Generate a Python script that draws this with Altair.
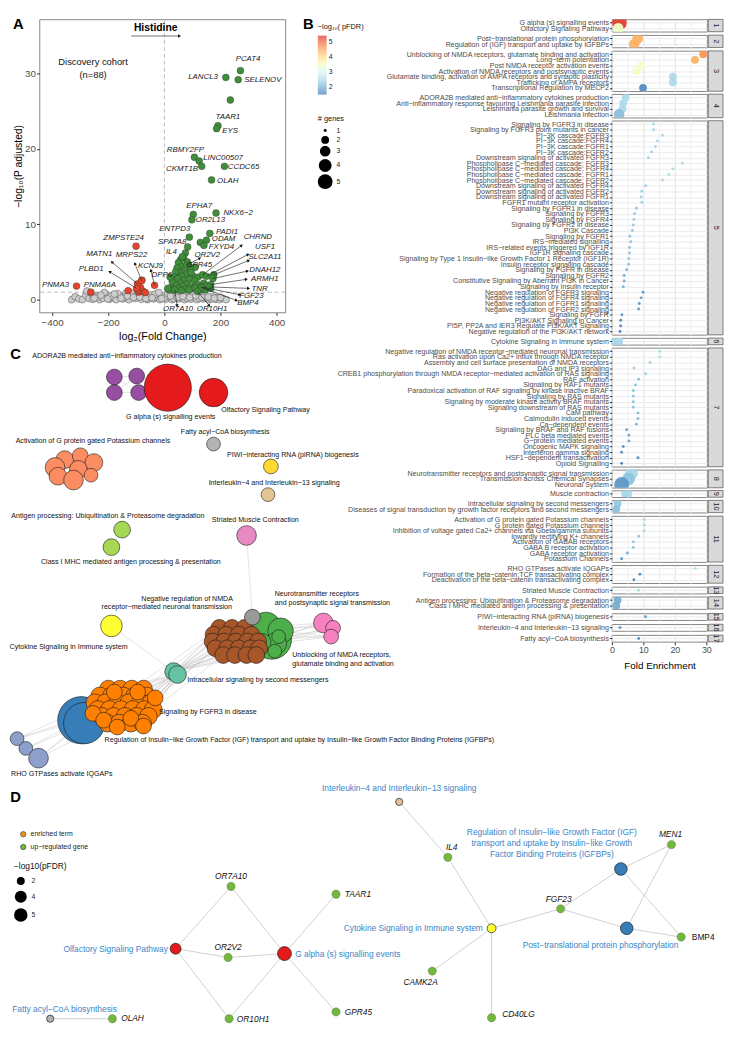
import math
import altair as alt
import pandas as pd

FONT = "Liberation Sans"

# ===================== Panel A : volcano =====================
gray_pts = [(-330,0.0),(-318,0.4),(-305,0.1),(-292,0.0),(-280,0.6),(-268,0.15),(-276,1.15),(-255,0.05),
            (-243,0.5),(-231,0.0),(-219,0.2),(-207,0.7),(-196,0.05),(-184,0.3),(-172,0.0),(-160,0.55),
            (-148,0.1),(-137,0.85),(-126,0.0),(-115,0.45),(-104,0.15),(-93,0.65),(-82,0.05),(-71,0.4),
            (-60,0.0),(-49,0.6),(-38,0.1),(-27,0.3),(-16,0.0),(-5,0.5),(6,0.05),(17,0.35),(28,0.0),
            (39,0.6),(50,0.1),(61,0.25),(72,0.0),(83,0.45),(94,0.05),(105,0.3),(116,0.0),(127,0.5),
            (138,0.1),(149,0.2),(160,0.0),(171,0.4),(182,0.05),(195,0.0),(208,0.15),(220,0.0),
            (-262,0.9),(-238,0.35),(-214,0.95),(-190,0.45),(-166,0.8),(-142,0.35),(-118,0.9),(-100,0.55),
            (-76,0.7),(-55,0.3),(-33,0.75),(-20,0.95),(0,0.25),(12,0.8),(34,0.15),(58,0.7),(80,0.2),
            (102,0.75),(124,0.2),(146,0.6),(168,0.1),(188,0.3),(-250,0.2),(-226,0.6),(-202,0.1),
            (-178,0.75),(-154,0.2),(-131,0.5),(-110,0.3),(-88,0.35),(-66,0.15),(-44,0.25),(-10,0.15),
            (22,0.5),(46,0.3),(66,0.45),(90,0.3),(112,0.55),(134,0.3),(156,0.35),(178,0.2),(200,0.3)]
red_pts = [(-129,1.2),(-92,1.0),(-76,1.1),(-68,0.95),(-85,1.6),(-80,2.6),(-95,1.25)]
green_pts = [(235,26.5),(128,7.6),(75,6.2),(68,5.6),(58,5.3),(82,5.0),(50,4.9),(64,4.4),(88,4.5),
             (45,4.2),(72,3.9),(95,4.0),(110,4.3),(54,3.6),(80,3.4),(40,3.7),(62,3.1),(100,3.2),
             (120,3.0),(35,3.0),(48,2.8),(70,2.6),(90,2.7),(108,2.5),(28,2.4),(56,2.2),(80,2.1),
             (140,2.2),(118,2.0),(42,1.9),(66,1.8),(95,1.7),(22,1.6),(150,1.9),(105,1.5),(50,1.5),
             (75,1.4),(132,1.4),(30,1.3),(88,1.3),(110,1.6),(60,1.2),(17,1.3),(145,1.3),(165,1.5),(12,1.5)]
# gene, x, y, label x, label y
down_genes = [("ZMPSTE24",-101,7.1,-145,8.2),("MATN1",-96,2.1,-232,6.0),("MRPS22",-81,2.5,-117,5.9),
              ("KCNJ9",-35,1.9,-50,4.4),("PLBD1",-99,1.5,-261,4.1),("PNMA3",-313,1.8,-388,1.9),
              ("PNMA6A",-262,1.0,-230,1.9)]
up_genes = [("PCAT4",271,30.4,298,31.9),("LANCL3",219,29.5,138,29.6),("SELENOV",263,29.2,351,29.2),
            ("TAAR1",191,23.1,226,24.3),("EYS",186,22.7,234,22.4),("RBMY2FP",107,18.9,75,19.8),
            ("LINC00507",124,18.4,209,18.8),("CKMT1B",133,17.7,63,17.3),("CCDC65",214,17.7,282,17.6),
            ("OLAH",168,15.9,226,15.8),("EPHA7",103,11.3,124,12.4),("OR2L13",98,10.6,164,10.6),
            ("NKX6−2",184,11.5,263,11.5),("ENTPD3",89,8.3,37,9.4),("PADI1",162,8.8,223,9.0),
            ("ODAM",150,7.9,211,8.0),("FXYD4",141,7.2,203,7.0),("SPATA8",83,7.0,28,7.6),
            ("IL4",64,5.7,25,6.3),("OR2V2",80,4.6,153,5.9),("GPR45",95,3.6,124,4.6),("DPP6",20,3.0,-9,3.3),
            ("CHRND",136,3.3,333,8.3),("USF1",150,3.1,359,7.0),("SLC2A11",176,3.3,358,5.7),
            ("DNAH12",173,2.8,358,3.9),("ARMH1",165,2.0,358,2.7),("TNR",160,1.7,339,1.4),
            ("FGF23",130,1.7,310,0.5),("BMP4",133,1.6,298,-0.5),("OR7A10",37,1.3,49,-1.3),
            ("OR10H1",118,1.1,170,-1.3)]
# label-side end of the connector for repelled labels
arrow_ends = {"MATN1":(-187,5.0),"MRPS22":(-105,4.8),"KCNJ9":(-48,3.9),"PLBD1":(-195,3.7),
              "OR2V2":(126,5.5),"CHRND":(275,7.2),"USF1":(298,6.0),"SLC2A11":(300,5.2),
              "DNAH12":(296,3.8),"ARMH1":(292,2.7),"TNR":(300,1.5),"FGF23":(269,0.65),
              "BMP4":(257,-0.1),"OR7A10":(45,-0.8),"OR10H1":(160,-0.8)}

A_W, A_H = 250, 298
AX_DOM, AY_DOM = [-445, 431], [-1.7, 37.2]
GRAY, RED, GREEN = "#cdcdcd", "#e6452c", "#3f8f3a"

pts_rows = [(x, y, GRAY) for x, y in gray_pts]
pts_rows += [(x, y, RED) for x, y in red_pts] + [(g[1], g[2], RED) for g in down_genes]
pts_rows += [(x, y, GREEN) for x, y in green_pts] + [(g[1], g[2], GREEN) for g in up_genes]
a_pts = pd.DataFrame(pts_rows, columns=["x", "y", "fill"])
a_lab = pd.DataFrame([(g[0], g[3], g[4]) for g in down_genes + up_genes], columns=["gene", "lx", "ly"])

kx = A_W / (AX_DOM[1] - AX_DOM[0])
ky = A_H / (AY_DOM[1] - AY_DOM[0])
arr_rows = []
for g in down_genes + up_genes:
    if g[0] in arrow_ends:
        ex, ey = arrow_ends[g[0]]
        arr_rows.append((g[1], g[2], ex, ey))
arr_rows.append((-118, 35.0, 54, 35.0))  # "Histidine" arrow
a_arr = pd.DataFrame(arr_rows, columns=["sx", "sy", "ex", "ey"])
a_arr["ang"] = [math.degrees(math.atan2((r.ex - r.sx) * kx, (r.ey - r.sy) * ky)) % 360 for r in a_arr.itertuples()]

xA = alt.Scale(domain=AX_DOM, nice=False, zero=False)
yA = alt.Scale(domain=AY_DOM, nice=False, zero=False)
axA_x = alt.Axis(values=[-400, -200, 0, 200, 400], grid=False, domain=False, tickSize=3, tickColor="#333",
                 labelFontSize=10, labelColor="#4d4d4d", labelPadding=2, titleFontSize=11,
                 titleFontWeight="normal", titlePadding=3, labelFlush=False)
axA_y = alt.Axis(values=[0, 10, 20, 30], grid=False, domain=False, tickSize=3, tickColor="#333",
                 labelFontSize=10, labelColor="#4d4d4d", labelPadding=1, titleFontSize=10.5,
                 titleFontWeight="normal", titlePadding=1)

# ---- Panel B data (its legends are drawn beside panel A, as in the figure) ----
b_rows = [
    (1, "G alpha (s) signalling events", 2.4, 5.3, 5),
    (1, "Olfactory Signaling Pathway", 2.0, 3.4, 3),
    (2, "Post−translational protein phosphorylation", 8.2, 4.4, 3),
    (2, "Regulation of (IGF) transport and uptake by IGFBPs", 7.1, 4.4, 3),
    (3, "Unblocking of NMDA receptors, glutamate binding and activation", 29.0, 4.6, 2),
    (3, "Long−term potentiation", 26.4, 4.4, 2),
    (3, "Post NMDA receptor activation events", 9.3, 3.4, 2),
    (3, "Activation of NMDA receptors and postsynaptic events", 7.9, 3.4, 2),
    (3, "Glutamate binding, activation of AMPA receptors and synaptic plasticity", 19.4, 2.5, 2),
    (3, "Trafficking of AMPA receptors", 19.4, 2.5, 2),
    (3, "Transcriptional Regulation by MECP2", 9.9, 1.7, 2),
    (4, "ADORA2B mediated anti−inflammatory cytokines production", 4.4, 2.5, 2),
    (4, "Anti−inflammatory response favouring Leishmania parasite infection", 3.6, 2.5, 2),
    (4, "Leishmania parasite growth and survival", 3.4, 2.5, 2),
    (4, "Leishmania infection", 2.3, 2.2, 3),
    (5, "Signaling by FGFR3 in disease", 13.2, 2.45, 1),
    (5, "Signaling by FGFR3 point mutants in cancer", 13.2, 2.45, 1),
    (5, "PI−3K cascade:FGFR3", 16.1, 2.45, 1),
    (5, "PI−3K cascade:FGFR4", 14.5, 2.45, 1),
    (5, "PI−3K cascade:FGFR1", 13.8, 2.45, 1),
    (5, "PI−3K cascade:FGFR2", 12.6, 2.4, 1),
    (5, "Downstream signaling of activated FGFR3", 11.6, 2.4, 1),
    (5, "Phospholipase C−mediated cascade; FGFR3", 22.4, 2.5, 1),
    (5, "Phospholipase C−mediated cascade; FGFR4", 19.4, 2.5, 1),
    (5, "Phospholipase C−mediated cascade; FGFR1", 18.1, 2.5, 1),
    (5, "Phospholipase C−mediated cascade; FGFR2", 16.1, 2.45, 1),
    (5, "Downstream signaling of activated FGFR4", 10.7, 2.4, 1),
    (5, "Downstream signaling of activated FGFR2", 9.5, 2.4, 1),
    (5, "Downstream signaling of activated FGFR1", 9.3, 2.4, 1),
    (5, "FGFR1 mutant receptor activation", 9.5, 2.35, 1),
    (5, "Signaling by FGFR1 in disease", 7.8, 2.3, 1),
    (5, "Signaling by FGFR3", 7.2, 2.3, 1),
    (5, "Signaling by FGFR4", 7.0, 2.3, 1),
    (5, "Signaling by FGFR2 in disease", 6.8, 2.3, 1),
    (5, "PI3K Cascade", 6.5, 2.25, 1),
    (5, "Signaling by FGFR1", 5.7, 2.25, 1),
    (5, "IRS−mediated signalling", 6.0, 2.25, 1),
    (5, "IRS−related events triggered by IGF1R", 5.6, 2.25, 1),
    (5, "IGF1R signaling cascade", 5.6, 2.25, 1),
    (5, "Signaling by Type 1 Insulin−like Growth Factor 1 Receptor (IGF1R)", 5.4, 2.25, 1),
    (5, "Insulin receptor signalling cascade", 5.3, 2.25, 1),
    (5, "Signaling by FGFR in disease", 4.7, 2.1, 1),
    (5, "Signaling by FGFR2", 3.9, 2.0, 1),
    (5, "Constitutive Signaling by Aberrant PI3K in Cancer", 3.9, 2.0, 1),
    (5, "Signaling by Insulin receptor", 3.6, 2.0, 1),
    (5, "Negative regulation of FGFR3 signaling", 9.9, 1.85, 1),
    (5, "Negative regulation of FGFR4 signaling", 9.3, 1.85, 1),
    (5, "Negative regulation of FGFR1 signaling", 8.7, 1.85, 1),
    (5, "Negative regulation of FGFR2 signaling", 8.5, 1.85, 1),
    (5, "Signaling by FGFR", 3.2, 1.85, 1),
    (5, "PI3K/AKT Signaling in Cancer", 2.8, 1.65, 1),
    (5, "PI5P, PP2A and IER3 Regulate PI3K/AKT Signaling", 2.8, 1.65, 1),
    (5, "Negative regulation of the PI3K/AKT network", 2.6, 1.65, 1),
    (6, "Cytokine Signaling in Immune system", 1.5, 2.45, 4),
    (7, "Negative regulation of NMDA receptor−mediated neuronal transmission", 15.2, 2.5, 1),
    (7, "Ras activation upon Ca2+ influx through NMDA receptor", 15.2, 2.5, 1),
    (7, "Assembly and cell surface presentation of NMDA receptors", 12.1, 2.4, 1),
    (7, "DAG and IP3 signaling", 7.0, 2.4, 1),
    (7, "CREB1 phosphorylation through NMDA receptor−mediated activation of RAS signaling", 10.7, 2.35, 1),
    (7, "RAF activation", 8.5, 2.2, 1),
    (7, "Signaling by RAF1 mutants", 7.5, 2.2, 1),
    (7, "Paradoxical activation of RAF signaling by kinase inactive BRAF", 6.8, 2.2, 1),
    (7, "Signaling by RAS mutants", 6.8, 2.2, 1),
    (7, "Signaling by moderate kinase activity BRAF mutants", 6.8, 2.2, 1),
    (7, "Signaling downstream of RAS mutants", 6.8, 2.2, 1),
    (7, "CaM pathway", 8.3, 2.15, 1),
    (7, "Calmodulin induced events", 8.3, 2.15, 1),
    (7, "Ca−dependent events", 7.8, 2.1, 1),
    (7, "Signaling by BRAF and RAF fusions", 4.7, 1.9, 1),
    (7, "PLC beta mediated events", 5.4, 1.95, 1),
    (7, "G−protein mediated events", 5.4, 1.95, 1),
    (7, "Oncogenic MAPK signaling", 3.6, 1.75, 1),
    (7, "Interferon gamma signaling", 3.1, 1.7, 1),
    (7, "HSF1−dependent transactivation", 8.3, 1.75, 1),
    (7, "Opioid Signalling", 3.1, 1.6, 1),
    (8, "Neurotransmitter receptors and postsynaptic signal transmission", 6.2, 2.45, 4),
    (8, "Transmission across Chemical Synapses", 5.3, 2.25, 4),
    (8, "Neuronal System", 3.1, 1.8, 5),
    (9, "Muscle contraction", 4.7, 2.45, 3),
    (10, "Intracellular signaling by second messengers", 1.8, 2.3, 2),
    (10, "Diseases of signal transduction by growth factor receptors and second messengers", 1.4, 2.2, 2),
    (11, "Activation of G protein gated Potassium channels", 10.3, 2.45, 1),
    (11, "G protein gated Potassium channels", 10.3, 2.45, 1),
    (11, "Inhibition  of voltage gated Ca2+ channels via Gbeta/gamma subunits", 10.3, 2.45, 1),
    (11, "Inwardly rectifying K+ channels", 8.5, 2.3, 1),
    (11, "Activation of GABAB receptors", 6.8, 2.2, 1),
    (11, "GABA B receptor activation", 6.8, 2.2, 1),
    (11, "GABA receptor activation", 4.9, 2.0, 1),
    (11, "Potassium Channels", 3.1, 1.75, 1),
    (12, "RHO GTPases activate IQGAPs", 26.5, 2.5, 1),
    (12, "Formation of the beta−catenin:TCF transactivating complex", 8.9, 1.7, 1),
    (12, "Deactivation of the beta−catenin transactivating complex", 7.0, 1.7, 1),
    (13, "Striated Muscle Contraction", 8.5, 2.45, 1),
    (14, "Antigen processing: Ubiquitination & Proteasome degradation", 1.8, 2.0, 2),
    (14, "Class I MHC mediated antigen processing & presentation", 1.4, 2.0, 2),
    (15, "PIWI−interacting RNA (piRNA) biogenesis", 10.7, 1.85, 1),
    (16, "Interleukin−4 and Interleukin−13 signaling", 2.6, 1.7, 1),
    (17, "Fatty acyl−CoA biosynthesis", 8.5, 1.7, 1),
]
b_df = pd.DataFrame(b_rows, columns=["cluster", "term", "fe", "logp", "genes"])
b_df["order"] = range(len(b_df))

RDYLBU = ["#4575b4", "#74add1", "#abd9e9", "#e0f3f8", "#ffffbf", "#fee090", "#fdae61", "#f46d43", "#d73027"]
C_LO, C_HI = 1.5, 5.4
C_DOM = [C_LO + i * (C_HI - C_LO) / 8 for i in range(9)]
COLOR_SCALE = alt.Scale(domain=C_DOM, range=RDYLBU)
SIZE_SCALE = alt.Scale(domain=[1, 5], range=[9, 225], zero=False)

hline = alt.Chart(pd.DataFrame({"y": [1.0]})).mark_rule(color="#a8a8a8", strokeDash=[4, 3], strokeWidth=0.8).encode(
    y=alt.Y("y:Q", scale=yA, axis=axA_y, title="−log₁₀(P adjusted)"))
vline = alt.Chart(pd.DataFrame({"x": [0]})).mark_rule(color="#a8a8a8", strokeDash=[4, 3], strokeWidth=0.8).encode(
    x=alt.X("x:Q", scale=xA, axis=axA_x, title="log₂(Fold Change)"))
a_points = alt.Chart(a_pts).mark_circle(size=49, stroke="#333", strokeWidth=0.4, opacity=1).encode(
    x=alt.X("x:Q", scale=xA), y=alt.Y("y:Q", scale=yA), color=alt.Color("fill:N", scale=None, legend=None))
a_lines = alt.Chart(a_arr).mark_rule(color="#111", strokeWidth=0.6).encode(
    x=alt.X("sx:Q", scale=xA), y=alt.Y("sy:Q", scale=yA), x2="ex:Q", y2="ey:Q")
a_heads = alt.Chart(a_arr).mark_point(shape="triangle-up", filled=True, size=12, color="#111", opacity=1).encode(
    x=alt.X("ex:Q", scale=xA), y=alt.Y("ey:Q", scale=yA), angle=alt.Angle("ang:Q", scale=None, legend=None))
a_labels = alt.Chart(a_lab).mark_text(fontSize=8, fontStyle="italic", color="#1a1a1a").encode(
    x=alt.X("lx:Q", scale=xA), y=alt.Y("ly:Q", scale=yA), text="gene:N")
a_title = alt.Chart(pd.DataFrame({"t": ["Histidine"], "x": [-31], "y": [36.1]})).mark_text(
    fontSize=10.5, fontWeight="bold", color="#000").encode(
    x=alt.X("x:Q", scale=xA), y=alt.Y("y:Q", scale=yA), text="t:N")
a_notes = alt.Chart(pd.DataFrame({"t": ["Discovery cohort", "(n=88)"], "x": [-254, -254],
                                  "y": [31.5, 29.8]})).mark_text(fontSize=9.5, color="#111").encode(
    x=alt.X("x:Q", scale=xA), y=alt.Y("y:Q", scale=yA), text="t:N")
a_letters = alt.Chart(pd.DataFrame({"t": ["A", "B"], "px": [-27, 268]})).mark_text(
    fontSize=15, fontWeight="bold", align="left", baseline="top", color="#000").encode(
    x=alt.X("px:Q", scale=None), y=alt.value(-2), text="t:N")
# legends of panel B (no marks drawn: the data is filtered out, scales have explicit domains)
b_legends = alt.Chart(b_df).transform_filter("false").mark_circle().encode(
    x=alt.X("fe:Q", scale=xA), y=alt.Y("logp:Q", scale=yA),
    color=alt.Color("logp:Q", scale=COLOR_SCALE,
                    legend=alt.Legend(title="−log₁₀( pFDR)", orient="none", legendX=283, legendY=4,
                                      values=[2, 3, 4, 5], gradientLength=60, gradientThickness=9,
                                      direction="vertical", titleFontSize=7.5, labelFontSize=7,
                                      titleFontWeight="normal", titlePadding=5, gradientStrokeWidth=0)),
    size=alt.Size("genes:Q", scale=SIZE_SCALE,
                  legend=alt.Legend(title="# genes", orient="none", legendX=283, legendY=97,
                                    values=[1, 2, 3, 4, 5], symbolFillColor="#000", symbolStrokeWidth=0,
                                    symbolOpacity=1, titleFontSize=7.5, labelFontSize=7,
                                    titleFontWeight="normal", titlePadding=5)))

A = alt.layer(hline, vline, a_points, a_lines, a_heads, a_labels, a_title, a_notes, a_letters,
              b_legends).properties(width=A_W, height=A_H).resolve_scale(color="independent", size="independent")

# ===================== Panel B : enrichment dot plot =====================
W_B = 97
STEP = 5.7
cond_major = "datum.value % 10 === 0"
clusters = sorted(b_df["cluster"].unique())

b_panels = []
for i, k in enumerate(clusters):
    sub = b_df[b_df["cluster"] == k]
    n = len(sub)
    h = STEP * (n - 1 + 1.2)
    last = (i == len(clusters) - 1)
    if last:
        xax = alt.Axis(values=[0, 5, 10, 15, 20, 25, 30], labelExpr="datum.value % 10 === 0 ? datum.label : ''",
                       tickOpacity={"condition": {"test": cond_major, "value": 1}, "value": 0},
                       gridColor={"condition": {"test": cond_major, "value": "#e0e0e0"}, "value": "#f0f0f0"},
                       domain=False, tickColor="#333", tickSize=3, labelFontSize=9, labelColor="#4d4d4d",
                       labelPadding=1, titleFontSize=10, titleFontWeight="normal", titlePadding=6,
                       labelFlush=False, title="Fold Enrichment")
    else:
        xax = alt.Axis(values=[0, 5, 10, 15, 20, 25, 30], labels=False, ticks=False, domain=False, title=None,
                       gridColor={"condition": {"test": cond_major, "value": "#e0e0e0"}, "value": "#f0f0f0"})
    pts = alt.Chart(sub).mark_circle(clip=True, opacity=0.95).encode(
        x=alt.X("fe:Q", scale=alt.Scale(domain=[0, 30.3], nice=False, zero=False), axis=xax),
        y=alt.Y("term:N", sort=alt.EncodingSortField(field="order", op="min"), scale=alt.Scale(padding=0.6),
                axis=alt.Axis(title=None, grid=True, gridColor="#ececec", domain=False, tickColor="#333",
                              tickSize=2.5, labelFontSize=7.2, labelColor="#4d4d4d", labelPadding=1,
                              labelLimit=400, labelOverlap=False)),
        color=alt.Color("logp:Q", scale=COLOR_SCALE, legend=None),
        size=alt.Size("genes:Q", scale=SIZE_SCALE, legend=None),
    )
    strip_df = pd.DataFrame({"lab": [str(k)]})
    strip = alt.Chart(strip_df).mark_rect(fill="#d9d9d9", stroke="#333", strokeWidth=0.6).encode(
        x=alt.value(W_B + 1), x2=alt.value(W_B + 16), y=alt.value(0), y2=alt.value(h))
    strip_txt = alt.Chart(strip_df).mark_text(angle=90, fontSize=7.5, color="#1a1a1a", baseline="middle",
                                              align="center").encode(
        x=alt.value(W_B + 8.5), y=alt.value(h / 2), text="lab:N")
    b_panels.append(alt.layer(pts, strip, strip_txt).properties(width=W_B, height=h))

B = alt.vconcat(*b_panels, spacing=1).resolve_scale(
    color="independent", size="independent", x="independent", y="independent")

# ===================== Panels C and D : networks (layout coordinates) =====================
SET_COL = {1: "#e41a1c", 2: "#377eb8", 3: "#4daf4a", 4: "#984ea3", 5: "#ff7f00", 6: "#ffff33",
           7: "#a65628", 8: "#f781bf", 9: "#999999", 10: "#66c2a5", 11: "#fc8d62", 12: "#8da0cb",
           13: "#e78ac3", 14: "#a6d854", 15: "#ffd92f", 16: "#e5c494", 17: "#b3b3b3"}
# cluster -> nodes (x, y, diameter) in the figure's layout space
c_nodes = {
    4: [(110,375,16),(133,374,16),(110,391,16),(135,391,16)],
    1: [(165,386,48),(212,391,29)],
    11: [(59,460,18),(75,456,16),(89,463,18),(49,468,20),(73,470,18),(52,477,18),(68,481,20),(86,476,14)],
    17: [(212,444,14)],
    15: [(271,467,15)],
    16: [(268,496,14)],
    14: [(118,532,17),(107,550,17)],
    13: [(246,538,20)],
    6: [(107,631,22)],
    12: [(10,747,14),(19,757,14),(32,767,20)],
    2: [(76,728,48),(79,731,42)],
    5: [(104,696,18),(116,696,18),(128,696,18),(140,696,18),(95,703,18),(107,703,18),(119,703,18),
        (131,703,18),(143,703,18),(90,710,18),(101,710,18),(113,710,18),(125,710,18),(137,710,18),
        (148,710,18),(93,717,18),(105,717,18),(117,717,18),(129,717,18),(141,717,18),(150,717,18),
        (97,724,18),(109,724,18),(121,724,18),(133,724,18),(145,724,18),(103,731,18),(115,731,18),
        (127,731,18),(139,731,18),(152,705,16),(88,721,16),(110,699,16),(134,699,16),(99,728,16),
        (127,726,16),(113,735,16),(140,734,16)],
    3: [(272,645,40),(266,632,30),(281,636,26),(276,649,22),(262,648,18),(275,657,14),(279,642,14)],
    7: [(218,633,17),(231,633,17),(244,633,17),(212,640,17),(225,640,17),(238,640,17),(251,640,17),
        (211,647,17),(223,647,17),(235,647,17),(247,647,17),(258,647,17),(214,654,17),(226,654,17),
        (238,654,17),(250,654,17),(259,654,17),(222,661,17),(234,661,17),(246,661,17),(256,661,17)],
    9: [(252,622,16)],
    8: [(325,628,20),(335,633,15),(333,642,15)],
    10: [(171,678,18),(175,681,18)],
}
c_edges = [((4,0),(4,1)),((4,0),(4,2)),((4,1),(4,3)),((4,2),(4,3)),((4,0),(4,3)),((4,1),(4,2)),
           ((1,0),(1,1)),((11,0),(11,1)),((11,1),(11,2)),((11,0),(11,3)),((11,3),(11,5)),((11,4),(11,6)),
           ((11,2),(11,7)),((11,0),(11,4)),((11,4),(11,7)),((14,0),(14,1)),((13,0),(9,0)),((9,0),(3,1)),
           ((6,0),(10,0)),
           ((10,0),(7,0)),((10,0),(7,3)),((10,0),(7,4)),((10,0),(7,7)),((10,0),(7,8)),((10,0),(7,9)),
           ((10,0),(7,12)),((10,0),(7,13)),((10,0),(7,14)),((10,0),(7,17)),((10,0),(7,18)),((10,0),(7,19)),
           ((10,0),(3,0)),((10,0),(3,1)),((10,0),(3,4)),((10,0),(3,5)),
           ((10,1),(5,0)),((10,1),(5,1)),((10,1),(5,2)),((10,1),(5,3)),((10,1),(5,7)),((10,1),(5,8)),
           ((10,1),(5,12)),((10,1),(5,13)),((10,1),(5,14)),((10,1),(5,18)),((10,1),(5,19)),((10,1),(5,20)),
           ((10,1),(5,24)),((10,1),(5,25)),((10,1),(5,30)),((10,1),(5,33)),
           ((5,3),(7,3)),((5,8),(7,7)),((5,14),(7,12)),((5,20),(7,17)),((5,30),(7,8)),((5,2),(7,0)),
           ((12,0),(12,1)),((12,1),(12,2)),((12,0),(2,0)),((12,1),(2,0)),((12,2),(2,1)),((12,0),(5,9)),
           ((12,1),(5,21)),((12,2),(5,26)),((12,2),(5,15)),((12,0),(5,31)),
           ((3,0),(8,0)),((3,0),(8,1)),((3,0),(8,2)),((3,1),(8,0)),((3,1),(8,1)),((3,2),(8,0)),
           ((3,2),(8,2)),((3,3),(8,1)),((3,3),(8,2)),((3,6),(8,0)),((3,6),(8,2)),((3,4),(8,1)),
           ((3,0),(7,9)),((3,1),(7,6)),((3,4),(7,15)),((7,2),(3,2))]
c_labels = [
    ("ADORA2B mediated anti−inflammatory cytokines production", 123, 353, "center"),
    ("G alpha (s) signalling events", 168, 416, "center"),
    ("Olfactory Signaling Pathway", 220, 409, "left"),
    ("Fatty acyl−CoA biosynthesis", 224, 432, "center"),
    ("Activation of G protein gated Potassium channels", 88, 441, "center"),
    ("PIWI−interacting RNA (piRNA) biogenesis", 226, 455, "left"),
    ("Interleukin−4 and Interleukin−13 signaling", 207, 484, "left"),
    ("Antigen processing: Ubiquitination & Proteasome degradation", 4, 518, "left"),
    ("Striated Muscle Contraction", 255, 522, "center"),
    ("Class I MHC mediated antigen processing & presentation", 127, 565, "center"),
    ("Negative regulation of NMDA", 232, 603, "right"),
    ("receptor−mediated neuronal transmission", 231, 612, "right"),
    ("Neurotransmitter receptors", 275, 598, "left"),
    ("and postsynaptic signal transmission", 275, 607, "left"),
    ("Cytokine Signaling in Immune system", 63, 653, "center"),
    ("Unblocking of NMDA receptors,", 293, 661, "left"),
    ("glutamate binding and activation", 293, 670, "left"),
    ("Intracellular signaling by second messengers", 185, 687, "left"),
    ("Signaling by FGFR3 in disease", 156, 720, "left"),
    ("Regulation of Insulin−like Growth Factor (IGF) transport and uptake by Insulin−like Growth Factor Binding Proteins (IGFBPs)", 100, 748, "left"),
    ("RHO GTPases activate IQGAPs", 56, 783, "center"),
]
# Panel D: enriched terms (name, x, y, cluster, -log10 pFDR)
d_terms = [("Olfactory Signaling Pathway", 173, 963, 1, 3.4),
           ("G alpha (s) signalling events", 285, 968, 1, 5.3),
           ("Fatty acyl−CoA biosynthesis", 44, 1035, 17, 1.7),
           ("Interleukin−4 and Interleukin−13 signaling", 403, 812, 16, 1.7),
           ("Cytokine Signaling in Immune system", 498, 942, 6, 2.4),
           ("Regulation of IGF transport", 631, 881, 2, 4.4),
           ("Post−translational protein phosphorylation", 637, 942, 2, 4.4)]
d_term_labels = [("Olfactory Signaling Pathway", 165, 963, "right"),
                 ("G alpha (s) signalling events", 296, 969, "left"),
                 ("Fatty acyl−CoA biosynthesis", 5, 1025, "left"),
                 ("Interleukin−4 and Interleukin−13 signaling", 403, 798, "center"),
                 ("Cytokine Signaling in Immune system", 489, 942, "right"),
                 ("Regulation of Insulin−like Growth Factor (IGF)", 560, 843, "center"),
                 ("transport and uptake by Insulin−like Growth", 560, 854, "center"),
                 ("Factor Binding Proteins (IGFBPs)", 560, 866, "center"),
                 ("Post−translational protein phosphorylation", 610, 959, "center")]
# genes (name, x, y, label x, label y, label align, label style)
d_genes = [("OR7A10",230,899,230,888,"center","italic"),("OR2V2",227,972,227,961,"center","italic"),
           ("OR10H1",228,1035,236,1035,"left","italic"),("TAAR1",338,907,347,907,"left","italic"),
           ("GPR45",338,1028,347,1028,"left","italic"),("OLAH",108,1035,117,1034,"left","italic"),
           ("IL4",453,869,457,858,"center","italic"),("FGF23",569,922,567,912,"center","italic"),
           ("MEN1",683,856,682,845,"center","italic"),("BMP4",693,951,704,951,"left","normal"),
           ("CAMK2A",437,986,425,997,"center","italic"),("CD40LG",498,1034,509,1030,"left","italic")]
d_edges = [("Olfactory Signaling Pathway","OR7A10"),("Olfactory Signaling Pathway","OR2V2"),
           ("Olfactory Signaling Pathway","OR10H1"),("G alpha (s) signalling events","OR7A10"),
           ("G alpha (s) signalling events","OR2V2"),("G alpha (s) signalling events","OR10H1"),
           ("G alpha (s) signalling events","TAAR1"),("G alpha (s) signalling events","GPR45"),
           ("Fatty acyl−CoA biosynthesis","OLAH"),("Interleukin−4 and Interleukin−13 signaling","IL4"),
           ("Cytokine Signaling in Immune system","IL4"),("Cytokine Signaling in Immune system","FGF23"),
           ("Cytokine Signaling in Immune system","CAMK2A"),("Cytokine Signaling in Immune system","CD40LG"),
           ("Regulation of IGF transport","FGF23"),("Regulation of IGF transport","MEN1"),
           ("Regulation of IGF transport","BMP4"),("Post−translational protein phosphorylation","FGF23"),
           ("Post−translational protein phosphorylation","MEN1"),
           ("Post−translational protein phosphorylation","BMP4")]

CD_W, CD_H = 691, 692
XS = alt.Scale(domain=[33, 732], nice=False, zero=False)
YS = alt.Scale(domain=[340, 1040], nice=False, zero=False, reverse=True)

def X(f):
    return alt.X(f, type="quantitative", scale=XS, axis=None)

def Y(f):
    return alt.Y(f, type="quantitative", scale=YS, axis=None)

cn_rows = []
for cl, lst in c_nodes.items():
    for (x, y, d) in lst:
        cn_rows.append((x, y, d * d, SET_COL[cl]))
cn_df = pd.DataFrame(cn_rows, columns=["x", "y", "sz", "col"])
ce_df = pd.DataFrame([(c_nodes[a[0]][a[1]][0], c_nodes[a[0]][a[1]][1],
                       c_nodes[b[0]][b[1]][0], c_nodes[b[0]][b[1]][1]) for a, b in c_edges],
                     columns=["x", "y", "x2", "y2"])
cl_df = pd.DataFrame(c_labels, columns=["label", "x", "y", "align"])

pos = {t[0]: (t[1], t[2]) for t in d_terms}
pos.update({g[0]: (g[1], g[2]) for g in d_genes})
de_df = pd.DataFrame([(pos[a][0], pos[a][1], pos[b][0], pos[b][1]) for a, b in d_edges],
                     columns=["x", "y", "x2", "y2"])
dt_df = pd.DataFrame([(t[1], t[2], SET_COL[t[3]], t[4]) for t in d_terms], columns=["x", "y", "col", "logp"])
dkind_df = pd.DataFrame([(t[1], t[2], "enriched term", 16) for t in d_terms] +
                        [(g[1], g[2], "up−regulated gene", 72) for g in d_genes],
                        columns=["x", "y", "kind", "sz"])
dtl_df = pd.DataFrame(d_term_labels, columns=["label", "x", "y", "align"])
dgl_df = pd.DataFrame([(g[0], g[3], g[4], g[5], g[6]) for g in d_genes],
                      columns=["label", "x", "y", "align", "style"])
letters_df = pd.DataFrame({"label": ["C", "D"], "x": [3, 3], "y": [351, 807]})

def text_layer(df, align, **kw):
    return alt.Chart(df).transform_filter(alt.datum.align == align).mark_text(
        align=align, baseline="middle", **kw).encode(x=X("x"), y=Y("y"), text="label:N")

c_edge_layer = alt.Chart(ce_df).mark_rule(color="#c2c2c2", strokeWidth=0.45).encode(
    x=X("x"), y=Y("y"), x2="x2:Q", y2="y2:Q")
c_node_layer = alt.Chart(cn_df).mark_circle(stroke="#1a1a1a", strokeWidth=0.6, opacity=1).encode(
    x=X("x"), y=Y("y"), size=alt.Size("sz:Q", scale=None, legend=None),
    color=alt.Color("col:N", scale=None, legend=None))
c_text = [text_layer(cl_df, a, fontSize=7.2, color="#111") for a in ["left", "center", "right"]]

d_edge_layer = alt.Chart(de_df).mark_rule(color="#c4c4c4", strokeWidth=0.8).encode(
    x=X("x"), y=Y("y"), x2="x2:Q", y2="y2:Q")
d_kind_layer = alt.Chart(dkind_df).mark_circle(stroke="#4d4d4d", strokeWidth=0.3, opacity=1).encode(
    x=X("x"), y=Y("y"), size=alt.Size("sz:Q", scale=None, legend=None),
    color=alt.Color("kind:N", scale=alt.Scale(domain=["enriched term", "up−regulated gene"],
                                              range=["#e8961e", "#72b83c"]),
                    legend=alt.Legend(title=None, orient="none", legendX=-20, legendY=496, labelFontSize=7,
                                      symbolSize=30, symbolStrokeColor="#333", symbolStrokeWidth=0.6,
                                      rowPadding=4)))
d_term_layer = alt.Chart(dt_df).mark_circle(stroke="#1a1a1a", strokeWidth=0.7, opacity=1).encode(
    x=X("x"), y=Y("y"), color=alt.Color("col:N", scale=None, legend=None),
    size=alt.Size("logp:Q", scale=alt.Scale(domain=[1.5, 5.3], range=[45, 200], zero=False),
                  legend=alt.Legend(title="−log10(pFDR)", orient="none", legendX=-26, legendY=528,
                                    values=[2, 4, 5], symbolFillColor="#000", symbolStrokeWidth=0,
                                    symbolOpacity=1, titleFontSize=8.5, labelFontSize=7,
                                    titleFontWeight="normal", titlePadding=6, rowPadding=5)))
d_tterm = [text_layer(dtl_df, a, fontSize=8.5, color="#3a86c6") for a in ["left", "center", "right"]]
d_tgene = [alt.Chart(dgl_df).transform_filter((alt.datum.align == a) & (alt.datum.style == s)).mark_text(
    align=a, baseline="middle", fontSize=8.5, color="#111", fontStyle=s).encode(
    x=X("x"), y=Y("y"), text="label:N")
    for a in ["left", "center"] for s in ["italic", "normal"]]
letters = alt.Chart(letters_df).mark_text(fontSize=15, fontWeight="bold", align="left",
                                         baseline="middle", color="#000").encode(
    x=X("x"), y=Y("y"), text="label:N")

CD = alt.layer(c_edge_layer, c_node_layer, *c_text, d_edge_layer, d_kind_layer, d_term_layer,
               *d_tterm, *d_tgene, letters).properties(
    width=CD_W, height=CD_H, view=alt.ViewBackground(stroke="transparent")
).resolve_scale(color="independent", size="independent")

# ===================== assemble =====================
# panel B overlaps the right part of panels C/D, as in the figure: no grid alignment, negative spacing
left = alt.vconcat(A, CD, spacing=0)
chart = alt.concat(left, B, columns=2, align="none", spacing=-390).properties(padding=0).configure(
    font=FONT).configure_view(stroke="#666", strokeWidth=0.8).configure_legend(
    titleFontWeight="normal", labelColor="#222", titleColor="#111")

chart.save("out.html", embed_options={"renderer": "svg", "actions": False})
